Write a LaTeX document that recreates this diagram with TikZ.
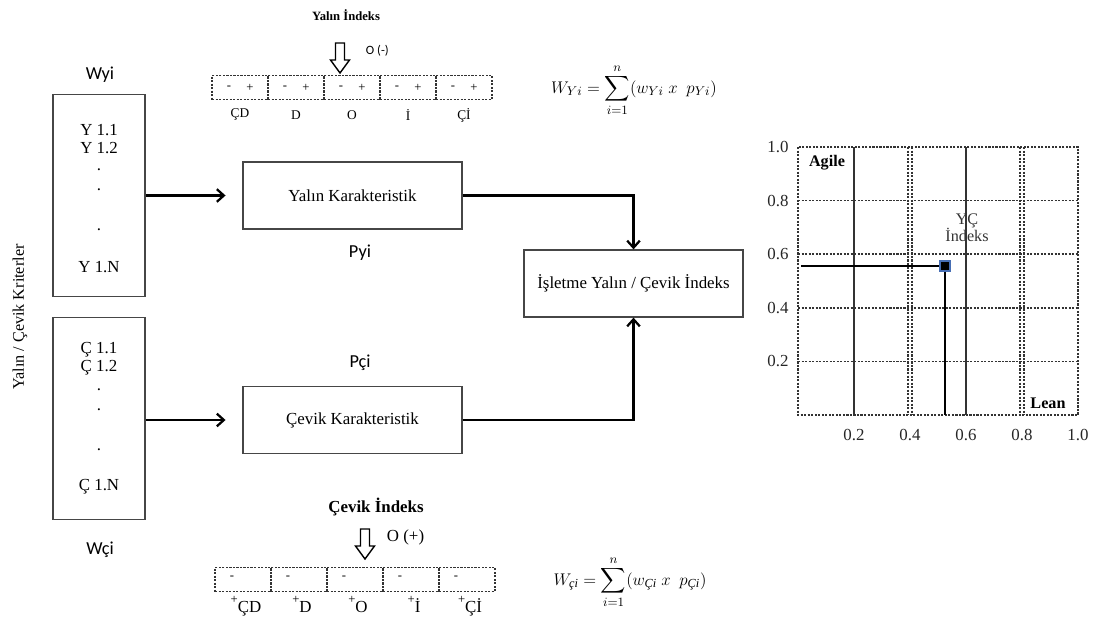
\documentclass[tikz,border=0pt]{standalone}
\usepackage{amsmath,amssymb}
\usepackage{fontspec}
\setmainfont{Liberation Serif}
\newfontfamily\calibrifont{Carlito}
\usetikzlibrary{shapes,arrows,arrows.meta,positioning,fit,backgrounds,calc}
\definecolor{framegray}{RGB}{70,70,70}
\definecolor{markerblue}{RGB}{70,110,180}

\tikzset{
  critbox/.style={draw=framegray, line width=0.9pt, minimum width=2.3cm, minimum height=5.05cm},
  charbox/.style={draw=framegray, line width=0.9pt, minimum width=5.475cm, minimum height=1.675cm, font=\fontsize{12}{14}\selectfont},
  flow/.style={-{Straight Barb[length=5pt,width=9pt]}, line width=1.6pt},
  cell/.style={draw=black!80, dash pattern=on 1.5pt off 1pt, line width=0.9pt, minimum width=1.4cm, minimum height=0.6cm, inner sep=0pt},
  gridline/.style={black!80, dash pattern=on 1.5pt off 1pt, line width=1.2pt},
  sanslabel/.style={font=\calibrifont\fontsize{13}{15}\selectfont},
  item/.style={font=\fontsize{12}{14}\selectfont, inner sep=0pt},
  axislabel/.style={font=\fontsize{12}{14}\selectfont, text=black!85},
  hollowdown/.pic={\draw[line width=1pt] (-4.5,0) -- (4.5,0) -- (4.5,17) -- (9.5,17) -- (0,30) -- (-9.5,17) -- (-4.5,17) -- cycle;}
}

\begin{document}
\begin{tikzpicture}[x=0.025cm, y=-0.025cm]
  \useasboundingbox (0,0) rectangle (1096,617);

  % criteria
  \node[sanslabel] (wyi) at (100,75) {Wyi};
  \node[critbox] (ybox) at (99,195.5) {};
  \node[critbox] (cbox) at (99,418.5) {};
  \node[sanslabel] (wci) at (100,550) {Wçi};
  \node[rotate=90, font=\fontsize{11.5}{13}\selectfont] (crit) at (20,317) {Yalın / Çevik Kriterler};
  \foreach \t/\y [count=\i] in {Y 1.1/130, Y 1.2/148, ./170, ./190, ./230, Y 1.N/267}
    \node[item] (yi\i) at (99,\y) {\t};
  \foreach \t/\y [count=\i] in {Ç 1.1/350, Ç 1.2/368, ./390, ./410, ./450, Ç 1.N/487}
    \node[item] (ci\i) at (99,\y) {\t};

  % characteristics
  \node[charbox] (yalin) at (352.5,195.5) {Yalın Karakteristik};
  \node[charbox] (cevik) at (352.5,420) {Çevik Karakteristik};
  \node[charbox] (islet) at (633.5,283.5) {İşletme Yalın / Çevik İndeks};
  \node[sanslabel] (pyi) at (360,253) {Pyi};
  \node[sanslabel] (pci) at (360,363) {Pçi};
  \draw[flow, shorten >=0.42cm] (ybox.east |- yalin) -- (yalin.west);
  \draw[flow, shorten >=0.42cm] (cbox.east |- cevik) -- (cevik.west);
  \draw[flow] (yalin.east) -| (islet.north);
  \draw[flow] (cevik.east) -| (islet.south);

  % lean index
  \node[font=\bfseries\fontsize{9}{11}\selectfont] (ytitle) at (346,15) {Yalın İndeks};
  \pic at (340,43) {hollowdown};
  \node[anchor=west, font=\calibrifont\fontsize{9}{11}\selectfont] (yo) at (361,51) {O (-)};
  \foreach \lab [count=\i from 0] in {ÇD,D,O,İ,Çİ} {
    \node[cell] (yc\i) at (240+56*\i,87.5) {};
    \node[font=\fontsize{9}{11}\selectfont] (ym\i) at (229+56*\i,88) {-};
    \node[font=\fontsize{9}{11}\selectfont] (yp\i) at (250+56*\i,88) {+};
    \node[font=\fontsize{9.5}{11}\selectfont] (yl\i) at (240+56*\i,115) {\lab};
  }
  \node[font=\fontsize{12.5}{14}\selectfont] (wyform) at (634,90)
    {$W_{Yi} = \displaystyle\sum_{i=1}^{n}(w_{Yi}\ x\ \ p_{Yi})$};

  % agile index
  \node[font=\bfseries\fontsize{12}{14}\selectfont] (ctitle) at (376,507) {Çevik İndeks};
  \pic at (365,529) {hollowdown};
  \node[anchor=west, font=\fontsize{12}{14}\selectfont] (co) at (382,537) {O (+)};
  \foreach \lab [count=\i from 0] in {ÇD,D,O,İ,Çİ} {
    \node[cell] (cc\i) at (243+56*\i,579.5) {};
    \node[font=\fontsize{9}{11}\selectfont] (cm\i) at (232+56*\i,578) {-};
    \node[anchor=base, font=\fontsize{12}{14}\selectfont] (cl\i) at (246+56*\i,612)
      {\raisebox{1.1ex}{\fontsize{9}{9}\selectfont+}\lab};
  }
  \node[font=\fontsize{12.5}{14}\selectfont] (wcform) at (630,582)
    {$W_{\text{\itshape çi}} = \displaystyle\sum_{i=1}^{n}(w_{\text{\itshape Çi}}\ x\ \ p_{\text{\itshape Çi}})$};

  % lean / agile chart
  \draw[gridline] (798,147) rectangle (1078,415);
  \foreach \r in {1,...,4}
    \draw[gridline] (798,415-53.6*\r) -- (1078,415-53.6*\r);
  \foreach \c in {2,4}
    \draw[gridline] (798+56*\c-2,147) -- (798+56*\c-2,415) (798+56*\c+2,147) -- (798+56*\c+2,415);
  \foreach \c in {1,3}
    \draw[black!80, line width=1pt] (798+56*\c,147) -- (798+56*\c,415);
  \foreach \v [count=\i] in {0.2,0.4,0.6,0.8,1.0} {
    \node[axislabel] (gy\i) at (778,415-53.6*\i) {\v};
    \node[axislabel] (gx\i) at (798+56*\i,435) {\v};
  }
  \node[font=\bfseries\fontsize{11.5}{13}\selectfont] (agile) at (827,163) {Agile};
  \node[font=\bfseries\fontsize{11.5}{13}\selectfont] (lean) at (1048,403) {Lean};
  \node[align=center, font=\fontsize{11.5}{12}\selectfont, text=black!80] (ycidx) at (967,228) {YÇ\\İndeks};
  \node[draw=markerblue, fill=black, line width=0.8pt, minimum size=0.25cm, inner sep=0pt] (mark) at (945,266) {};
  \coordinate (mleft) at (801,266);
  \coordinate (mdown) at (945,415);
  \draw[line width=1.6pt] (mleft) -- (mark.west);
  \draw[line width=1.6pt] (mark.south) -- (mdown);
\end{tikzpicture}
\end{document}
